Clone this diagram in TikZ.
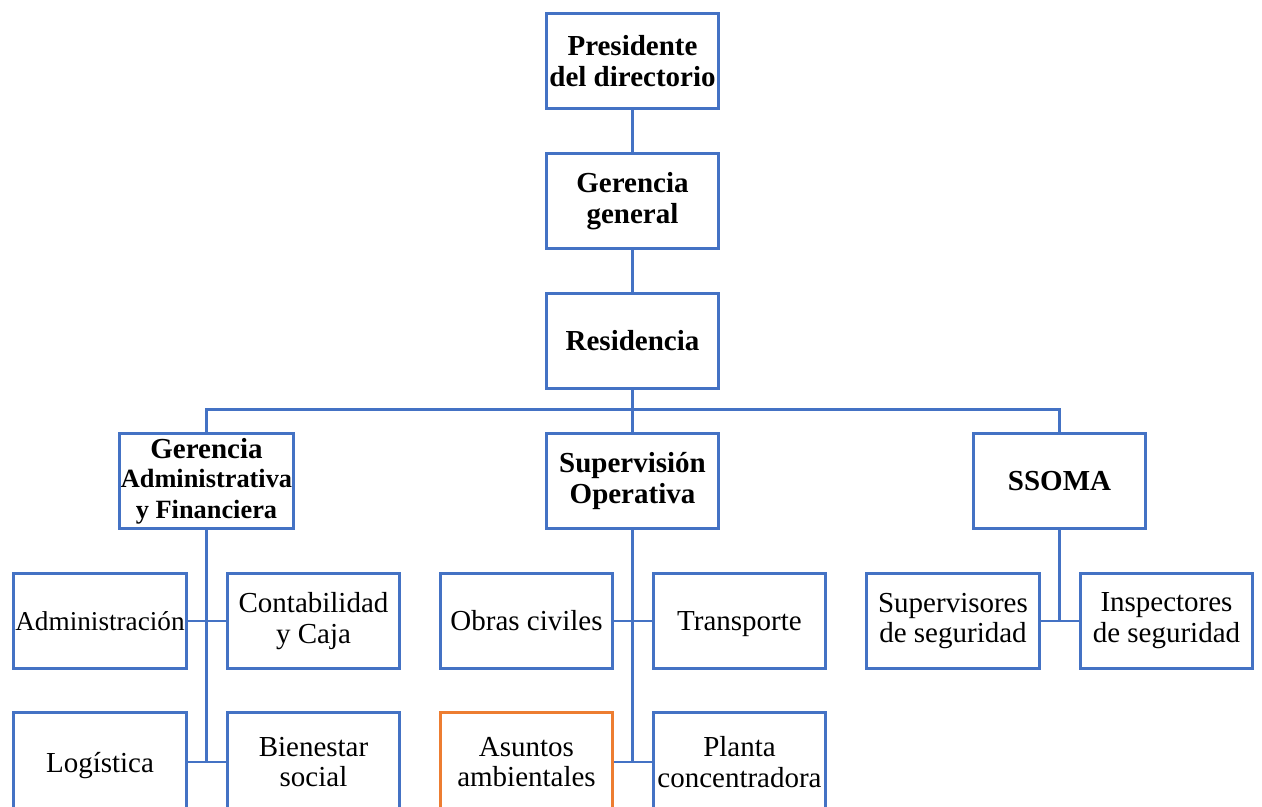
\documentclass[tikz,border=0pt]{standalone}
\usepackage{fontspec}
\setmainfont{Liberation Serif}
\definecolor{azul}{RGB}{68,114,196}
\definecolor{naranja}{RGB}{237,125,49}
\newcommand{\sinpie}[1]{\raisebox{0pt}[\height][0pt]{#1}}
\tikzset{
  caja/.style={draw=azul, line width=1.7pt, fill=white, minimum width=3.45cm,
    minimum height=1.9cm, inner sep=1pt, align=center,
    font=\fontsize{16.5}{17.5}\selectfont},
  jefe/.style={caja, font=\fontsize{16.5}{17.5}\selectfont\bfseries},
  linea/.style={draw=azul, line width=1.7pt}
}
\begin{document}
\begin{tikzpicture}[x=0.02cm,y=-0.02cm]
\useasboundingbox (0,0) rectangle (1262,807);
% Nivel superior
\node[jefe] (pre) at (632.5,61) {Presidente\\del directorio};
\node[jefe] (gge) at (632.5,201) {Gerencia\\general};
\node[jefe] (res) at (632.5,341) {Residencia};
% Gerencias
\node[jefe] (gaf) at (206.5,481) {Gerencia\\[-1pt]{\fontsize{15}{16}\selectfont Administrativa}\\{\fontsize{15}{16}\selectfont y Financiera}};
\node[jefe] (sop) at (632.5,481) {Supervisión\\Operativa};
\node[jefe] (sso) at (1059.5,481) {SSOMA};
% Areas
\node[caja] (adm) at (100,621) {\fontsize{15.5}{17}\selectfont Administración};
\node[caja] (con) at (313.5,621) {Contabilidad\\y Caja};
\node[caja, minimum height=2cm] (log) at (100,762) {\sinpie{Logística}};
\node[caja, minimum height=2cm] (bie) at (313.5,762) {Bienestar\\social};
\node[caja] (obr) at (526.5,621) {Obras civiles};
\node[caja] (tra) at (739.5,621) {\sinpie{Transporte}};
\node[caja, draw=naranja, minimum height=2cm] (asu) at (526.5,762) {Asuntos\\ambientales};
\node[caja, minimum height=2cm] (pla) at (739.5,762) {Planta\\concentradora};
\node[caja] (sup) at (953,621) {Supervisores\\de seguridad};
\node[caja] (ins) at (1166.5,621) {Inspectores\\de seguridad};
% Conectores
\draw[linea] (pre) -- (gge);
\draw[linea] (gge) -- (res);
\draw[linea] (res.south) -- (sop.north);
\draw[linea] (res.south) -- ++(0,20) -| (gaf.north);
\draw[linea] (res.south) -- ++(0,20) -| (sso.north);
\draw[linea] (gaf.south) -- (gaf.south |- log.east);
\draw[linea] (adm.east) -- (con.west);
\draw[linea] (log.east) -- (bie.west);
\draw[linea] (sop.south) -- (sop.south |- asu.east);
\draw[linea] (obr.east) -- (tra.west);
\draw[linea] (asu.east) -- (pla.west);
\draw[linea] (sso.south) -- (sso.south |- sup.east);
\draw[linea] (sup.east) -- (ins.west);
\end{tikzpicture}
\end{document}
